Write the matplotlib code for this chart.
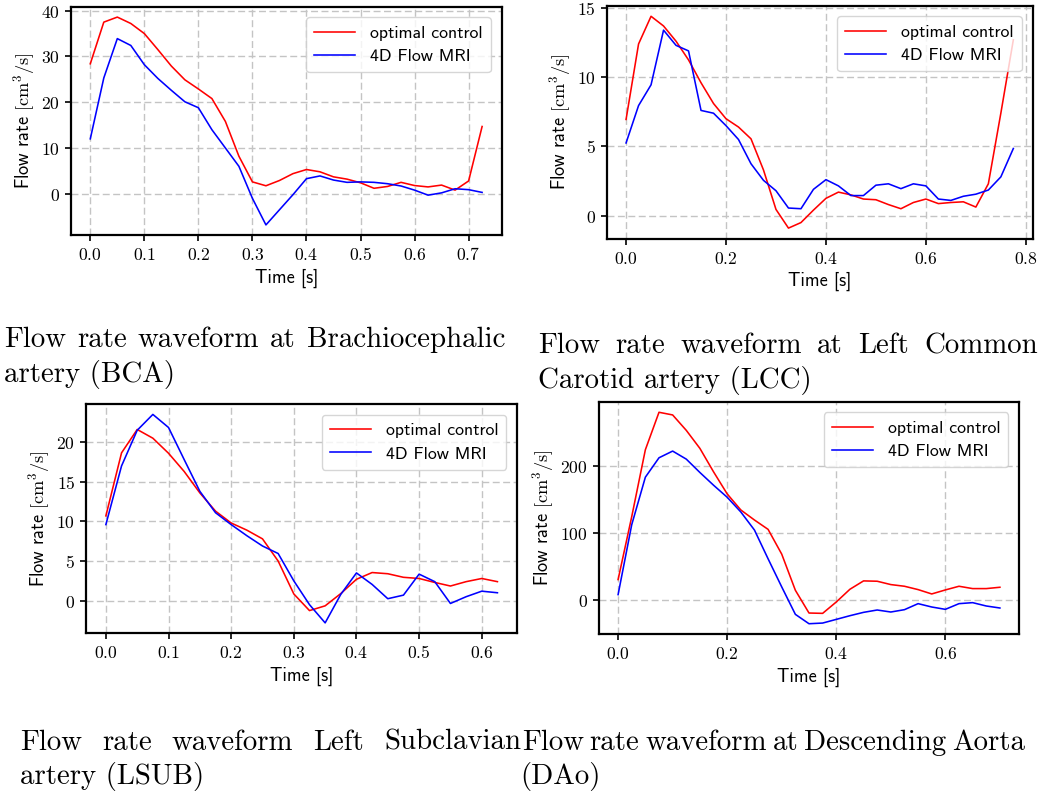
import matplotlib
matplotlib.use("Agg")
import matplotlib.pyplot as plt
from matplotlib.ticker import FuncFormatter

# ---------------- data ----------------
time_s = [0.0, 0.025, 0.05, 0.075, 0.1, 0.125, 0.15, 0.175, 0.2, 0.225,
          0.25, 0.275, 0.3, 0.325, 0.35, 0.375, 0.4, 0.425, 0.45, 0.475,
          0.5, 0.525, 0.55, 0.575, 0.6, 0.625, 0.65, 0.675, 0.7, 0.725,
          0.75, 0.775]

bca_opt = [28.4, 37.5, 38.6, 37.2, 35.0, 31.5, 27.9, 24.9, 22.9, 20.8,
           15.8, 8.2, 2.6, 1.75, 2.9, 4.4, 5.3, 4.8, 3.7, 3.2,
           2.4, 1.2, 1.6, 2.5, 1.8, 1.5, 1.9, 0.8, 2.8, 14.7]
bca_mri = [12.0, 25.3, 33.9, 32.4, 28.2, 25.2, 22.6, 20.1, 18.8, 14.0,
           10.0, 6.0, -1.0, -6.8, -3.5, -0.2, 3.3, 3.9, 3.0, 2.5,
           2.6, 2.5, 2.2, 1.7, 0.8, -0.3, 0.2, 1.1, 0.9, 0.3]

lcc_opt = [6.95, 12.4, 14.4, 13.7, 12.6, 11.25, 9.6, 8.1, 7.0, 6.4,
           5.55, 3.3, 0.45, -0.9, -0.5, 0.4, 1.25, 1.7, 1.5, 1.2,
           1.15, 0.8, 0.5, 0.95, 1.2, 0.87, 0.95, 1.0, 0.62, 2.3,
           7.4, 12.7]
lcc_mri = [5.25, 7.95, 9.45, 13.4, 12.3, 11.9, 7.6, 7.4, 6.5, 5.5,
           3.75, 2.55, 1.8, 0.55, 0.5, 1.9, 2.6, 2.15, 1.45, 1.45,
           2.2, 2.3, 1.95, 2.3, 2.15, 1.2, 1.1, 1.4, 1.55, 1.85,
           2.8, 4.85]

lsub_opt = [10.7, 18.65, 21.6, 20.5, 18.6, 16.3, 13.6, 11.3, 9.8, 8.9,
            7.8, 5.0, 0.85, -1.25, -0.65, 0.9, 2.7, 3.55, 3.4, 2.95,
            2.8, 2.3, 1.85, 2.4, 2.8, 2.4]
lsub_mri = [9.6, 17.0, 21.5, 23.5, 21.85, 17.8, 13.8, 11.1, 9.6, 8.2,
            6.9, 5.95, 2.5, -0.5, -2.8, 0.8, 3.5, 2.05, 0.25, 0.7,
            3.35, 2.4, -0.35, 0.5, 1.2, 1.0]

dao_opt = [31, 125, 225, 281, 277, 254, 227, 192, 159, 135,
           120, 106, 69, 15, -19, -19.5, -2.5, 16.5, 29, 28.5,
           23.5, 21, 16, 9.5, 15.5, 21, 17.5, 17.5, 19.5]
dao_mri = [8.5, 113, 184, 213, 223, 211, 191, 172, 154, 132,
           105, 62, 20, -21, -35, -34, -28.5, -23, -18, -14.5,
           -17.5, -14, -5, -10, -13.5, -5, -3.5, -8.5, -11.5]

series_labels = ["optimal control", "4D Flow MRI"]
xlabel_text = "Time [s]"
ylabel_text = r"Flow rate $[\mathrm{cm}^3/\mathrm{s}]$"

panels = [
    dict(opt=bca_opt, mri=bca_mri,
         xticks=[0.0, 0.1, 0.2, 0.3, 0.4, 0.5, 0.6, 0.7],
         yticks=[0, 10, 20, 30, 40],
         rect_px=(70.7, 6.7, 501.7, 235.3)),
    dict(opt=lcc_opt, mri=lcc_mri,
         xticks=[0.0, 0.2, 0.4, 0.6, 0.8],
         yticks=[0, 5, 10, 15],
         rect_px=(606.7, 5.7, 1032.7, 238.7)),
    dict(opt=lsub_opt, mri=lsub_mri,
         xticks=[0.0, 0.1, 0.2, 0.3, 0.4, 0.5, 0.6],
         yticks=[0, 5, 10, 15, 20],
         rect_px=(86.3, 404.0, 517.0, 633.3)),
    dict(opt=dao_opt, mri=dao_mri,
         xticks=[0.0, 0.2, 0.4, 0.6],
         yticks=[0, 100, 200],
         rect_px=(599.0, 401.7, 1019.0, 634.3)),
]

captions = [
    # (line1, line2, x0, x1 (justify), baseline1, baseline2, x of line2)
    ("Flow rate waveform at Brachiocephalic", "artery (BCA)", 4, 505, 347, 382, 4),
    ("Flow rate waveform at Left Common", "Carotid artery (LCC)", 538, 1038, 353, 388, 538),
    ("Flow rate waveform Left Subclavian", "artery (LSUB)", 20, 521, 750, 784, 20),
    ("Flow rate waveform at Descending Aorta", "(DAo)", 522, 1025, 750, 784, 520),
]

# ---------------- style ----------------
plt.rcParams["mathtext.fontset"] = "cm"
plt.rcParams["font.family"] = ["DejaVu Sans"]
plt.rcParams["axes.unicode_minus"] = False
sans_family = "cmss10"

W, H = 1041, 791
fig = plt.figure(figsize=(W / 100, H / 100), dpi=100)
fig.patch.set_facecolor("white")

tick_fmt_x = FuncFormatter(lambda v, p: r"$%.1f$" % v)
tick_fmt_y = FuncFormatter(lambda v, p: r"$%d$" % round(v))

for pnl in panels:
    x0, y0, x1, y1 = pnl["rect_px"]
    ax = fig.add_axes([x0 / W, 1 - y1 / H, (x1 - x0) / W, (y1 - y0) / H])
    n = len(pnl["opt"])
    t = time_s[:n]
    ax.plot(t, pnl["opt"], color="#ff0000", lw=1.15, label=series_labels[0])
    ax.plot(t, pnl["mri"], color="#0000ff", lw=1.15, label=series_labels[1])
    ax.set_xticks(pnl["xticks"])
    ax.set_yticks(pnl["yticks"])
    ax.xaxis.set_major_formatter(tick_fmt_x)
    ax.yaxis.set_major_formatter(tick_fmt_y)
    ax.tick_params(labelsize=12.7, length=4.5, width=1.2, color="black")
    ax.grid(True, ls=(0, (5, 2.5)), color="#c4c4c4", lw=1.0)
    ax.set_axisbelow(True)
    for sp in ax.spines.values():
        sp.set_linewidth(1.6)
        sp.set_color("black")
    ax.set_xlabel(xlabel_text, fontsize=13.2, family=sans_family, labelpad=3)
    ax.set_ylabel(ylabel_text, fontsize=13.2, family=sans_family, labelpad=3)
    ax.legend(loc="upper right", prop={"family": sans_family, "size": 12.8},
              handlelength=2.3, handletextpad=0.85, borderaxespad=0.6,
              framealpha=0.8, borderpad=0.45, labelspacing=0.45)

# ---------------- captions (justified first lines) ----------------
renderer = fig.canvas.get_renderer()
cap_size = 20.8
cap_family = "cmr10"

for line1, line2, cx0, cx1, b1, b2, lx2 in captions:
    words = line1.split(" ")
    objs = []
    widths = []
    for w in words:
        tx = fig.text(0, 1 - b1 / H, w, fontsize=cap_size, family=cap_family,
                      va="baseline", ha="left")
        bb = tx.get_window_extent(renderer=renderer)
        objs.append(tx)
        widths.append(bb.width)
    total = sum(widths)
    gap = (cx1 - cx0 - total) / (len(words) - 1)
    x = cx0
    for tx, wd in zip(objs, widths):
        tx.set_x(x / W)
        x += wd + gap
    fig.text(lx2 / W, 1 - b2 / H, line2, fontsize=cap_size, family=cap_family,
             va="baseline", ha="left")

fig.savefig("out.png", dpi=100, facecolor="white")
